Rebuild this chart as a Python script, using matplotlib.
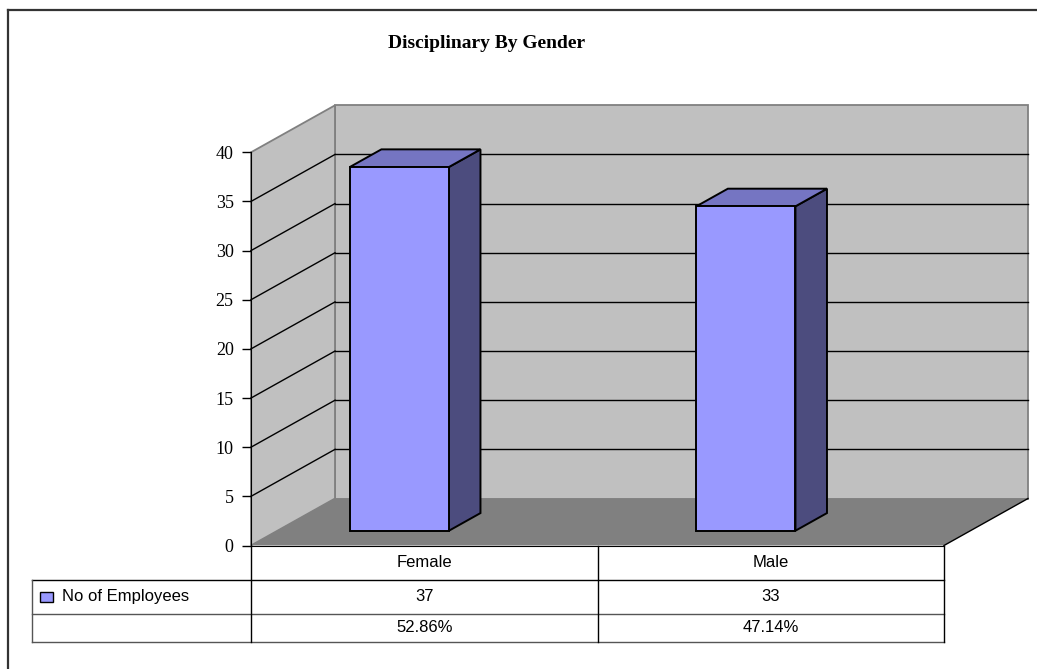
import matplotlib
matplotlib.use("Agg")
import matplotlib.pyplot as plt
from matplotlib.patches import Polygon, Rectangle
from matplotlib.lines import Line2D

# ---- data ----
categories = ["Female", "Male"]
series_name = "No of Employees"
values = [37, 33]
y_ticks = [0, 5, 10, 15, 20, 25, 30, 35, 40]
title = "Disciplinary By Gender"

total = sum(values)
percents = [f"{v / total * 100:.2f}%" for v in values]

# ---- oblique 3D geometry (in data units) ----
DX, DY = 0.2424, 4.78          # full floor depth offset (categories, value units)
BAR_D0, BAR_D1 = 0.315, 0.69   # bar front / back depth fractions
BAR_LEFT, BAR_W = 0.209, 0.286 # bar left edge within slot, bar width
YMAX = 40

face_col = "#9999FF"
top_col = "#7575C2"
side_col = "#4C4C7E"
wall_col = "#C0C0C0"
floor_col = "#808080"

fig = plt.figure(figsize=(10.37, 6.69), dpi=100)
W, H = 1037, 669
ax = fig.add_axes([251 / W, 1 - 545.5 / H, 693 / W, (545.5 - 152.3) / H])
ax.set_xlim(0, len(categories))
ax.set_ylim(0, YMAX)

n = len(categories)

def shift(x, y, d):
    return (x + d * DX, y + d * DY)

# back wall
ax.add_patch(Polygon([shift(0, 0, 1), shift(n, 0, 1), shift(n, YMAX, 1), shift(0, YMAX, 1)],
                     closed=True, facecolor=wall_col, edgecolor="#808080", lw=1.3,
                     zorder=1, clip_on=False))
# side wall
ax.add_patch(Polygon([(0, 0), (0, YMAX), shift(0, YMAX, 1), shift(0, 0, 1)],
                     closed=True, facecolor=wall_col, edgecolor="#808080", lw=1.3,
                     zorder=1, clip_on=False))
# floor
ax.add_patch(Polygon([(0, 0), (n, 0), shift(n, 0, 1), shift(0, 0, 1)],
                     closed=True, facecolor=floor_col, edgecolor="none",
                     zorder=1.1, clip_on=False))
ax.add_line(Line2D([n, n + DX], [0, DY], color="black", lw=1, zorder=1.2, clip_on=False))

# gridlines on back and side walls
for t in y_ticks[1:-1]:
    ax.add_line(Line2D([DX, n + DX], [t + DY, t + DY], color="black", lw=1,
                       zorder=1.5, clip_on=False))
    ax.add_line(Line2D([0, DX], [t, t + DY], color="black", lw=1,
                       zorder=1.5, clip_on=False))

# 3D bars
for i, v in enumerate(values):
    x0 = i + BAR_LEFT
    x1 = x0 + BAR_W
    front = [shift(x0, 0, BAR_D0), shift(x1, 0, BAR_D0), shift(x1, v, BAR_D0), shift(x0, v, BAR_D0)]
    top = [shift(x0, v, BAR_D0), shift(x1, v, BAR_D0), shift(x1, v, BAR_D1), shift(x0, v, BAR_D1)]
    side = [shift(x1, 0, BAR_D0), shift(x1, 0, BAR_D1), shift(x1, v, BAR_D1), shift(x1, v, BAR_D0)]
    for poly, col in ((side, side_col), (top, top_col), (front, face_col)):
        ax.add_patch(Polygon(poly, closed=True, facecolor=col, edgecolor="black",
                             lw=1.4, joinstyle="miter", zorder=3, clip_on=False))

# axes styling
for s in ("top", "right"):
    ax.spines[s].set_visible(False)
ax.spines["left"].set_color("black")
ax.spines["bottom"].set_color("black")
ax.spines["left"].set_zorder(4)
ax.spines["bottom"].set_zorder(4)
ax.set_yticks(y_ticks)
ax.set_yticklabels([str(t) for t in y_ticks], fontfamily="Liberation Serif", fontsize=13)
ax.tick_params(axis="y", direction="out", length=6.5, width=1, pad=6, colors="black")
ax.set_xticks([])
ax.patch.set_visible(False)

# ---- data table below the plot ----
row_b = [-3.51, -6.96, -9.81]     # bottoms of the three table rows
leg_left = -0.632
tbl_font = dict(fontfamily="Liberation Sans", fontsize=12, color="black")

def hline(x0, x1, y, col="black", lw=1):
    ax.add_line(Line2D([x0, x1], [y, y], color=col, lw=lw, clip_on=False, zorder=4))

def vline(x, y0, y1, col="black", lw=1):
    ax.add_line(Line2D([x, x], [y0, y1], color=col, lw=lw, clip_on=False, zorder=4))

hline(leg_left, n, row_b[0])
hline(leg_left, n, row_b[1], col="#555555")
hline(leg_left, n, row_b[2], col="#555555")
vline(leg_left, row_b[0], row_b[2], col="#555555")
for i in range(n + 1):
    vline(i, 0, row_b[2])

for i, c in enumerate(categories):
    ax.text(i + 0.5, row_b[0] / 2, c, ha="center", va="center", **tbl_font)
    ax.text(i + 0.5, (row_b[0] + row_b[1]) / 2, str(values[i]), ha="center", va="center", **tbl_font)
    ax.text(i + 0.5, (row_b[1] + row_b[2]) / 2, percents[i], ha="center", va="center", **tbl_font)

# legend key inside the table
key_y = (row_b[0] + row_b[1]) / 2
ax.add_patch(Rectangle((-0.61, key_y - 0.5), 0.0375, 1.0, facecolor=face_col,
                       edgecolor="black", lw=1, clip_on=False, zorder=4))
ax.text(-0.545, key_y, series_name, ha="left", va="center", **tbl_font)

# title and outer frame
fig.text(487 / W, 1 - 43 / H, title, ha="center", va="center",
         fontfamily="Liberation Serif", fontweight="bold", fontsize=14)
fig.add_artist(Line2D([8 / W, 8 / W], [0, 1 - 10 / H], color="#333333", lw=1.6,
                      transform=fig.transFigure))
fig.add_artist(Line2D([8 / W, 1], [1 - 10 / H, 1 - 10 / H], color="#333333", lw=1.6,
                      transform=fig.transFigure))

fig.savefig("out.png", dpi=100)
